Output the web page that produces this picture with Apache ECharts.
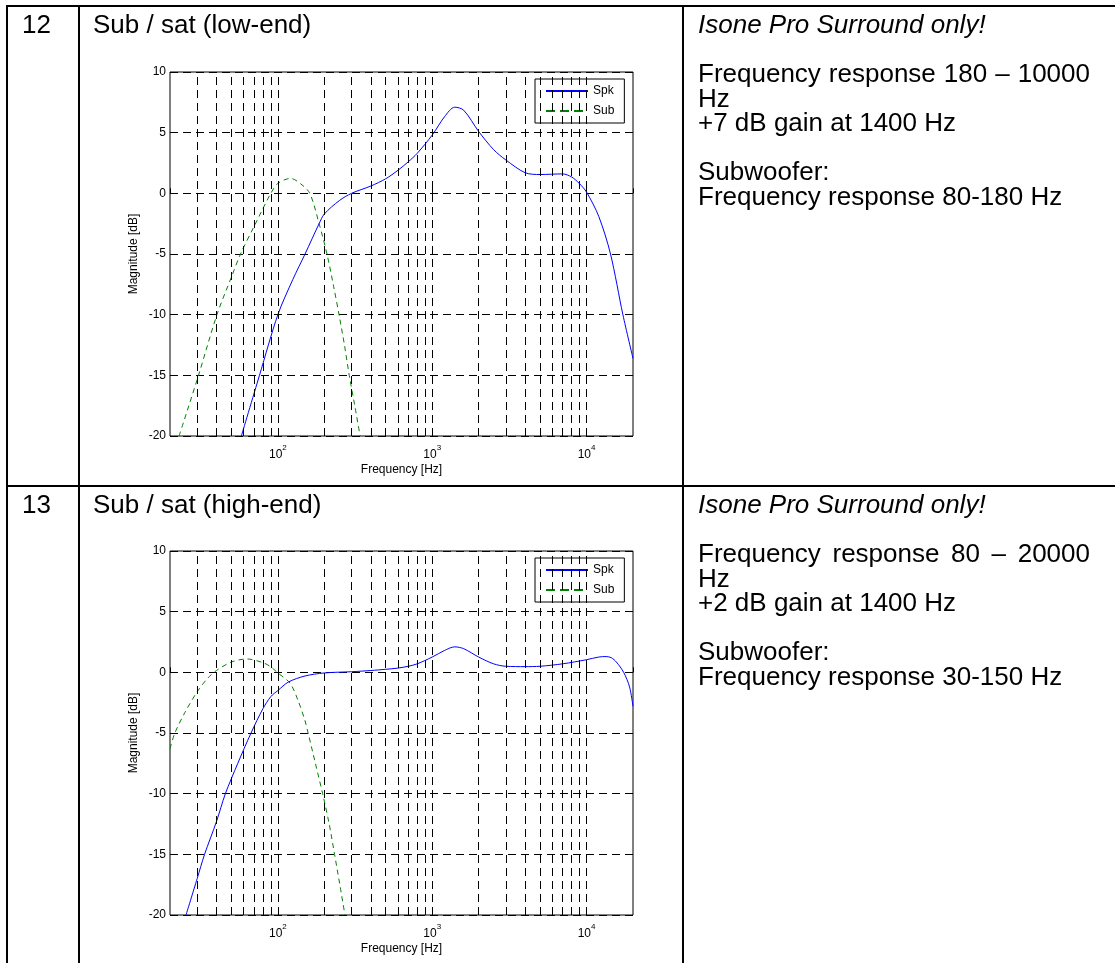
<!DOCTYPE html>
<html>
<head>
<meta charset="utf-8">
<script src="https://cdn.jsdelivr.net/npm/echarts@6/dist/echarts.min.js"></script>
<style>
  html, body { margin: 0; padding: 0; background: #fff; }
  body { width: 1115px; height: 963px; position: relative; overflow: hidden;
         font-family: Arial, "Liberation Sans", sans-serif; color: #000; }
  .line { position: absolute; background: #000; }
  .cell { position: absolute; font-size: 26px; line-height: 24.5px; white-space: nowrap; }
  .cell div { height: 24.5px; }
  .just { width: 392px; text-align: justify; text-align-last: justify; }
  #chart { position: absolute; left: 0; top: 0; width: 1115px; height: 963px; }
</style>
</head>
<body>
<div id="chart"></div>

<!-- table rules -->
<div class="line" style="left:6px;top:5px;width:1109px;height:2px"></div>
<div class="line" style="left:6px;top:485px;width:1109px;height:2px"></div>
<div class="line" style="left:6px;top:5px;width:2px;height:958px"></div>
<div class="line" style="left:78px;top:5px;width:2px;height:958px"></div>
<div class="line" style="left:682px;top:5px;width:2px;height:958px"></div>

<!-- row 12 -->
<div class="cell" style="left:22px;top:12px">12</div>
<div class="cell" style="left:93px;top:12px">Sub / sat (low-end)</div>
<div class="cell" style="left:698px;top:12px">
  <div><i>Isone Pro Surround only!</i></div>
  <div></div>
  <div class="just">Frequency response 180 – 10000</div>
  <div>Hz</div>
  <div>+7 dB gain at 1400 Hz</div>
  <div></div>
  <div>Subwoofer:</div>
  <div>Frequency response 80-180 Hz</div>
</div>

<!-- row 13 -->
<div class="cell" style="left:22px;top:492px">13</div>
<div class="cell" style="left:93px;top:492px">Sub / sat (high-end)</div>
<div class="cell" style="left:698px;top:492px">
  <div><i>Isone Pro Surround only!</i></div>
  <div></div>
  <div class="just">Frequency response 80 – 20000</div>
  <div>Hz</div>
  <div>+2 dB gain at 1400 Hz</div>
  <div></div>
  <div>Subwoofer:</div>
  <div>Frequency response 30-150 Hz</div>
</div>

<script>
// axis limits and grid positions (Hz / dB)
var freqMin = 20, freqMax = 20000;
var dbMin = -20, dbMax = 10, dbStep = 5;
var gridFreqs = [30, 40, 50, 60, 70, 80, 90, 100,
                 200, 300, 400, 500, 600, 700, 800, 900, 1000,
                 2000, 3000, 4000, 5000, 6000, 7000, 8000, 9000, 10000];
var seriesNames = ['Spk', 'Sub'];

// row 12, low-end
var spkLow = [[58, -20], [76, -15], [100, -10], [125, -7.1], [150, -5], [185, -2.5],
  [200, -1.7], [250, -0.6], [300, 0], [400, 0.6], [500, 1.2], [600, 1.9], [700, 2.6],
  [800, 3.3], [1000, 4.8], [1200, 6.3], [1400, 7.1], [1600, 6.85], [2000, 5.1],
  [2500, 3.6], [3000, 2.75], [4000, 1.7], [5000, 1.55], [7000, 1.6], [8000, 1.35],
  [9000, 0.8], [10000, 0.1], [12000, -1.9], [14300, -5], [17200, -10], [20000, -13.6]];
var subLow = [[22.9, -20], [30.6, -15], [40.3, -10], [50, -6.9], [57.3, -5], [70, -2.75],
  [90, 0], [100, 0.82], [121, 1.23], [140, 0.8], [161, 0], [185, -2.5], [208, -5],
  [230, -7.7], [249, -10], [270, -12.5], [290, -15], [315, -17.5], [341, -20]];

// row 13, high-end
var spkHigh = [[25.4, -20], [30, -17], [33.5, -15], [40, -12.3], [45.7, -10], [55, -7.5],
  [67, -5], [80, -3], [90, -2], [100, -1.5], [117, -0.8], [150, -0.3], [200, -0.05],
  [300, 0.05], [400, 0.15], [500, 0.25], [600, 0.35], [700, 0.5], [800, 0.7],
  [1000, 1.26], [1200, 1.8], [1400, 2.1], [1600, 1.95], [2000, 1.26], [2500, 0.7],
  [3000, 0.5], [4000, 0.47], [5000, 0.5], [7000, 0.7], [10000, 1.04], [12000, 1.26],
  [13400, 1.3], [14500, 1.2], [15600, 0.85], [17400, 0], [19000, -1.2], [20000, -2.8]];
var subHigh = [[20, -6.3], [21.5, -5], [25, -3.3], [30, -1.6], [35, -0.5], [40, 0.15],
  [50, 0.85], [63, 1.1], [80, 0.8], [90, 0.45], [100, -0.05], [120, -0.9], [135, -2.3],
  [150, -4], [157, -5], [175, -7.5], [195, -10], [215, -12.5], [233, -15], [252, -17.5],
  [272, -20]];

var panels = [
  { top: 72, spk: spkLow, sub: subLow },
  { top: 551, spk: spkHigh, sub: subHigh }
];

var myChart = echarts.init(document.getElementById('chart'));
var font = 'Arial, "Liberation Sans", sans-serif';
var dash = [8, 5];

function decadeLabel(v) {
  var e = Math.log(v) / Math.LN10;
  if (Math.abs(e - Math.round(e)) < 1e-6) {
    return '{b|10}{sup|' + Math.round(e) + '}';
  }
  return '';
}

var grids = [], xAxes = [], yAxes = [], series = [], legends = [];
panels.forEach(function (p, i) {
  grids.push({
    left: 170, top: p.top, width: 463, height: 364,
    show: true, borderColor: '#000', borderWidth: 1, backgroundColor: '#fff'
  });
  xAxes.push({
    type: 'log', logBase: 10, gridIndex: i, min: freqMin, max: freqMax,
    name: 'Frequency [Hz]', nameLocation: 'middle', nameGap: 28,
    nameTextStyle: { fontSize: 12, color: '#000', fontFamily: font },
    axisLine: { show: false },
    axisTick: { inside: true, length: 5, lineStyle: { color: '#000' } },
    splitLine: { show: false },
    axisLabel: {
      margin: 8, formatter: decadeLabel, fontFamily: font,
      rich: {
        b: { fontSize: 12, lineHeight: 17, color: '#000', fontFamily: font, verticalAlign: 'bottom' },
        sup: { fontSize: 8, lineHeight: 17, color: '#000', fontFamily: font, verticalAlign: 'top' }
      }
    }
  });
  yAxes.push({
    type: 'value', gridIndex: i, min: dbMin, max: dbMax, interval: dbStep,
    name: 'Magnitude [dB]', nameLocation: 'middle', nameGap: 30,
    nameTextStyle: { fontSize: 12, color: '#000', fontFamily: font },
    axisLine: { show: false },
    axisTick: { inside: true, length: 5, lineStyle: { color: '#000' } },
    splitLine: { show: true, lineStyle: { color: '#000', width: 1, type: dash } },
    axisLabel: { fontSize: 12, color: '#000', margin: 4, fontFamily: font }
  });
  series.push({
    name: 'grid' + i, type: 'line', xAxisIndex: i, yAxisIndex: i, data: [],
    silent: true,
    markLine: {
      silent: true, symbol: 'none', animation: false,
      label: { show: false },
      lineStyle: { color: '#000', width: 1, type: dash },
      data: gridFreqs.map(function (f) { return { xAxis: f }; })
    }
  });
  series.push({
    name: seriesNames[0], type: 'line', xAxisIndex: i, yAxisIndex: i, data: p.spk,
    symbol: 'none', smooth: 0.3, clip: true, z: 4,
    lineStyle: { color: '#0000ff', width: 1 }, itemStyle: { color: '#0000ff' }
  });
  series.push({
    name: seriesNames[1], type: 'line', xAxisIndex: i, yAxisIndex: i, data: p.sub,
    symbol: 'none', smooth: 0.3, clip: true, z: 3,
    lineStyle: { color: '#008000', width: 1, type: [5, 4] }, itemStyle: { color: '#008000' }
  });
  legends.push({
    data: [
      { name: seriesNames[0] },
      { name: seriesNames[1], lineStyle: { type: [9, 5] } }
    ],
    left: 535, top: p.top + 7, orient: 'vertical', align: 'left',
    itemWidth: 42, itemHeight: 12, itemGap: 8, padding: [6, 10, 6, 10],
    borderColor: '#000', borderWidth: 1, backgroundColor: '#fff', selectedMode: false,
    itemStyle: { color: 'rgba(0,0,0,0)', borderWidth: 0, opacity: 0 },
    textStyle: { fontSize: 12, color: '#000', fontFamily: font }
  });
});

myChart.setOption({
  animation: false,
  backgroundColor: 'transparent',
  grid: grids,
  xAxis: xAxes,
  yAxis: yAxes,
  legend: legends,
  series: series
});
</script>
</body>
</html>
